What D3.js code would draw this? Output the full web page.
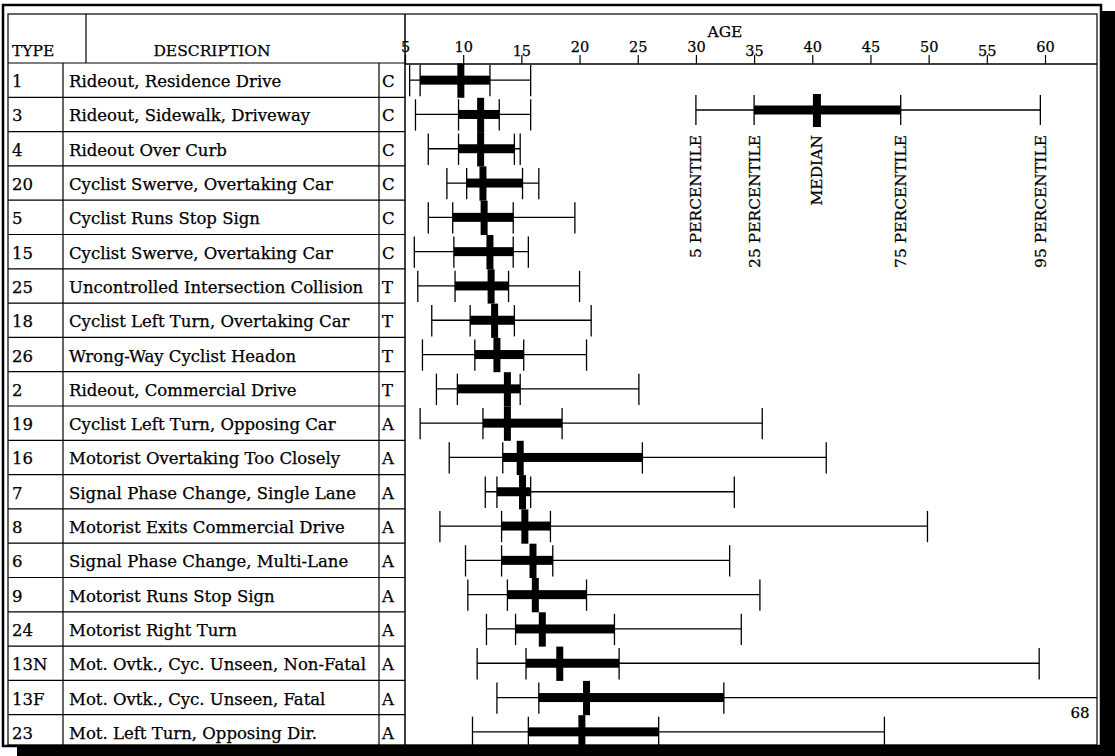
<!DOCTYPE html>
<html>
<head>
<meta charset="utf-8">
<script src="https://cdn.jsdelivr.net/npm/d3@7/dist/d3.min.js"></script>
<style>
  html, body { margin: 0; padding: 0; background: #fff; }
  svg { display: block; }
  text { font-family: "DejaVu Serif", "Liberation Serif", serif; fill: #000; stroke: #000; stroke-width: 0.25; }
</style>
</head>
<body>
<svg id="chart" width="1115" height="756"></svg>
<script>
// ---------- data ----------
const types = ["1","3","4","20","5","15","25","18","26","2","19","16","7","8","6","9","24","13N","13F","23"];
const descriptions = [
  "Rideout, Residence Drive",
  "Rideout, Sidewalk, Driveway",
  "Rideout Over Curb",
  "Cyclist Swerve, Overtaking Car",
  "Cyclist Runs Stop Sign",
  "Cyclist Swerve, Overtaking Car",
  "Uncontrolled Intersection Collision",
  "Cyclist Left Turn, Overtaking Car",
  "Wrong-Way Cyclist Headon",
  "Rideout, Commercial Drive",
  "Cyclist Left Turn, Opposing Car",
  "Motorist Overtaking Too Closely",
  "Signal Phase Change, Single Lane",
  "Motorist Exits Commercial Drive",
  "Signal Phase Change, Multi-Lane",
  "Motorist Runs Stop Sign",
  "Motorist Right Turn",
  "Mot. Ovtk., Cyc. Unseen, Non-Fatal",
  "Mot. Ovtk., Cyc. Unseen, Fatal",
  "Mot. Left Turn, Opposing Dir."
];
const classes = ["C","C","C","C","C","C","T","T","T","T","A","A","A","A","A","A","A","A","A","A"];
const p5  = [5.4, 5.9, 7.0, 8.6, 7.0, 5.8, 6.1, 7.3, 6.5, 7.7, 6.3, 8.8, 11.9, 8.0, 10.2, 10.4, 12.0, 11.2, 12.9, 10.8];
const p25 = [6.3, 9.6, 9.6, 10.3, 9.1, 9.2, 9.3, 10.6, 11.0, 9.5, 11.7, 13.4, 12.9, 13.3, 13.3, 13.8, 14.5, 15.4, 16.5, 15.6];
const p50 = [9.8, 11.5, 11.5, 11.7, 11.8, 12.3, 12.4, 12.7, 12.9, 13.8, 13.8, 14.9, 15.1, 15.3, 16.0, 16.2, 16.8, 18.3, 20.6, 20.2];
const p75 = [12.3, 13.1, 14.4, 15.1, 14.3, 14.3, 13.9, 14.4, 15.2, 14.9, 18.5, 25.4, 15.8, 17.5, 17.7, 20.6, 23.0, 23.4, 32.4, 26.8];
const p95 = [15.8, 15.8, 14.9, 16.5, 19.6, 15.6, 20.0, 21.0, 20.6, 25.1, 35.7, 41.2, 33.3, 49.9, 32.9, 35.5, 33.9, 59.5, 68, 46.2];
const tickValues = [5,10,15,20,25,30,35,40,45,50,55,60];
const legendValues = [30, 35, 40.4, 47.6, 59.6];
const legendLabels = ["5 PERCENTILE","25 PERCENTILE","MEDIAN","75 PERCENTILE","95 PERCENTILE"];

// ---------- layout ----------
const svg = d3.select("#chart");
const plotL = 405, plotR = 1097, headTop = 14, headBot = 63, rowH = 34.3;
const x = d3.scaleLinear().domain([5, 60]).range([405, 1045]);
const y = d3.scaleBand().domain(types).range([headBot, headBot + rowH * types.length]);
const rows = types.map((t, i) => ({t, d: descriptions[i], c: classes[i], q: [p5[i], p25[i], p50[i], p75[i], p95[i]]}));
const xc = v => Math.min(x(v), plotR);

// ---------- table ----------
const tbl = svg.append("g");
rows.forEach((r, i) => {
  const yt = y(r.t);
  tbl.append("line").attr("x1", 8).attr("x2", plotL).attr("y1", yt).attr("y2", yt)
     .attr("stroke", "#000").attr("stroke-width", 1.2);
  const cy = yt + y.bandwidth() / 2 + 7;
  tbl.append("text").attr("x", 12).attr("y", cy).attr("font-size", 16.5).text(r.t);
  tbl.append("text").attr("x", 69).attr("y", cy).attr("font-size", 16.5).text(r.d);
  tbl.append("text").attr("x", 382).attr("y", cy).attr("font-size", 16.5).text(r.c);
});
// vertical dividers
tbl.append("line").attr("x1", 63).attr("x2", 63).attr("y1", headBot).attr("y2", 745).attr("stroke", "#000").attr("stroke-width", 1.2);
tbl.append("line").attr("x1", 86).attr("x2", 86).attr("y1", headTop).attr("y2", headBot).attr("stroke", "#000").attr("stroke-width", 1.2);
tbl.append("line").attr("x1", 379).attr("x2", 379).attr("y1", headBot).attr("y2", 745).attr("stroke", "#000").attr("stroke-width", 1.2);
tbl.append("line").attr("x1", plotL).attr("x2", plotL).attr("y1", headTop).attr("y2", 745).attr("stroke", "#000").attr("stroke-width", 1.5);
// header text
tbl.append("text").attr("x", 12).attr("y", 56).attr("font-size", 15.5).text("TYPE");
tbl.append("text").attr("x", 212).attr("y", 56).attr("font-size", 15.5).attr("text-anchor", "middle").text("DESCRIPTION");

// ---------- axis ----------
const axisY = 64;
const axis = d3.axisTop(x).tickValues(tickValues).tickSize(9).tickPadding(3).tickFormat(d3.format("d"));
const ag = svg.append("g").attr("transform", `translate(0,${axisY})`).call(axis);
ag.select(".domain").remove();
ag.selectAll(".tick line").attr("stroke", "#000").attr("stroke-width", 1.2);
ag.selectAll(".tick text").attr("font-family", "DejaVu Serif").attr("font-size", 14.5).attr("fill", "#000")
  .attr("dy", d => (d === 15 || d === 35 || d === 55) ? "0.25em" : "0em");
svg.append("line").attr("x1", plotL).attr("x2", plotR).attr("y1", axisY).attr("y2", axisY)
  .attr("stroke", "#000").attr("stroke-width", 1.5);
svg.append("text").attr("x", 725).attr("y", 37).attr("font-size", 15.5).attr("text-anchor", "middle").text("AGE");

// ---------- box marks ----------
const marks = svg.append("g");
rows.forEach(r => {
  const yt = y(r.t), h = y.bandwidth(), cy = yt + h / 2;
  const [a, b, m, c, d] = r.q;
  // whisker line
  marks.append("line").attr("x1", x(a)).attr("x2", xc(d)).attr("y1", cy).attr("y2", cy)
    .attr("stroke", "#000").attr("stroke-width", 1.3);
  // IQR bar
  marks.append("rect").attr("x", x(b)).attr("y", cy - 4.5).attr("width", x(c) - x(b)).attr("height", 9).attr("fill", "#000");
  // percentile ticks
  [a, b, c, d].forEach(v => {
    if (x(v) > plotR) return;
    marks.append("line").attr("x1", x(v)).attr("x2", x(v)).attr("y1", yt + 2).attr("y2", yt + h - 1)
      .attr("stroke", "#000").attr("stroke-width", 1.3);
  });
  // median
  marks.append("rect").attr("x", x(m) - 3.5).attr("y", yt + 0.5).attr("width", 7).attr("height", h).attr("fill", "#000");
  if (d > 60) {
    marks.append("text").attr("x", 1080).attr("y", cy + 20).attr("font-size", 15).attr("text-anchor", "middle").text(d3.format("d")(d));
  }
});

// ---------- legend ----------
const lg = svg.append("g");
const ly = 110;
lg.append("line").attr("x1", x(legendValues[0])).attr("x2", x(legendValues[4])).attr("y1", ly).attr("y2", ly)
  .attr("stroke", "#000").attr("stroke-width", 1.3);
lg.append("rect").attr("x", x(legendValues[1])).attr("y", ly - 4.5).attr("width", x(legendValues[3]) - x(legendValues[1])).attr("height", 9).attr("fill", "#000");
[0, 1, 3, 4].forEach(i => {
  lg.append("line").attr("x1", x(legendValues[i])).attr("x2", x(legendValues[i])).attr("y1", ly - 15).attr("y2", ly + 15)
    .attr("stroke", "#000").attr("stroke-width", 1.3);
});
lg.append("rect").attr("x", x(legendValues[2]) - 4).attr("y", ly - 16).attr("width", 8).attr("height", 33).attr("fill", "#000");
legendValues.forEach((v, i) => {
  lg.append("text").attr("transform", `translate(${x(v) + 5.5},135) rotate(-90)`)
    .attr("text-anchor", "end").attr("font-size", 15.5).attr("stroke-width", 0.45).text(legendLabels[i]);
});

// ---------- frame ----------
svg.append("rect").attr("x", 3).attr("y", 5).attr("width", 1098).attr("height", 741)
  .attr("fill", "none").attr("stroke", "#000").attr("stroke-width", 2.5);
svg.append("rect").attr("x", 8).attr("y", headTop).attr("width", plotR - 8).attr("height", 745 - headTop)
  .attr("fill", "none").attr("stroke", "#000").attr("stroke-width", 1.2);
svg.append("rect").attr("x", 1101).attr("y", 11).attr("width", 14).attr("height", 745).attr("fill", "#000");
svg.append("rect").attr("x", 17).attr("y", 745).attr("width", 1098).attr("height", 11).attr("fill", "#000");
</script>
</body>
</html>
